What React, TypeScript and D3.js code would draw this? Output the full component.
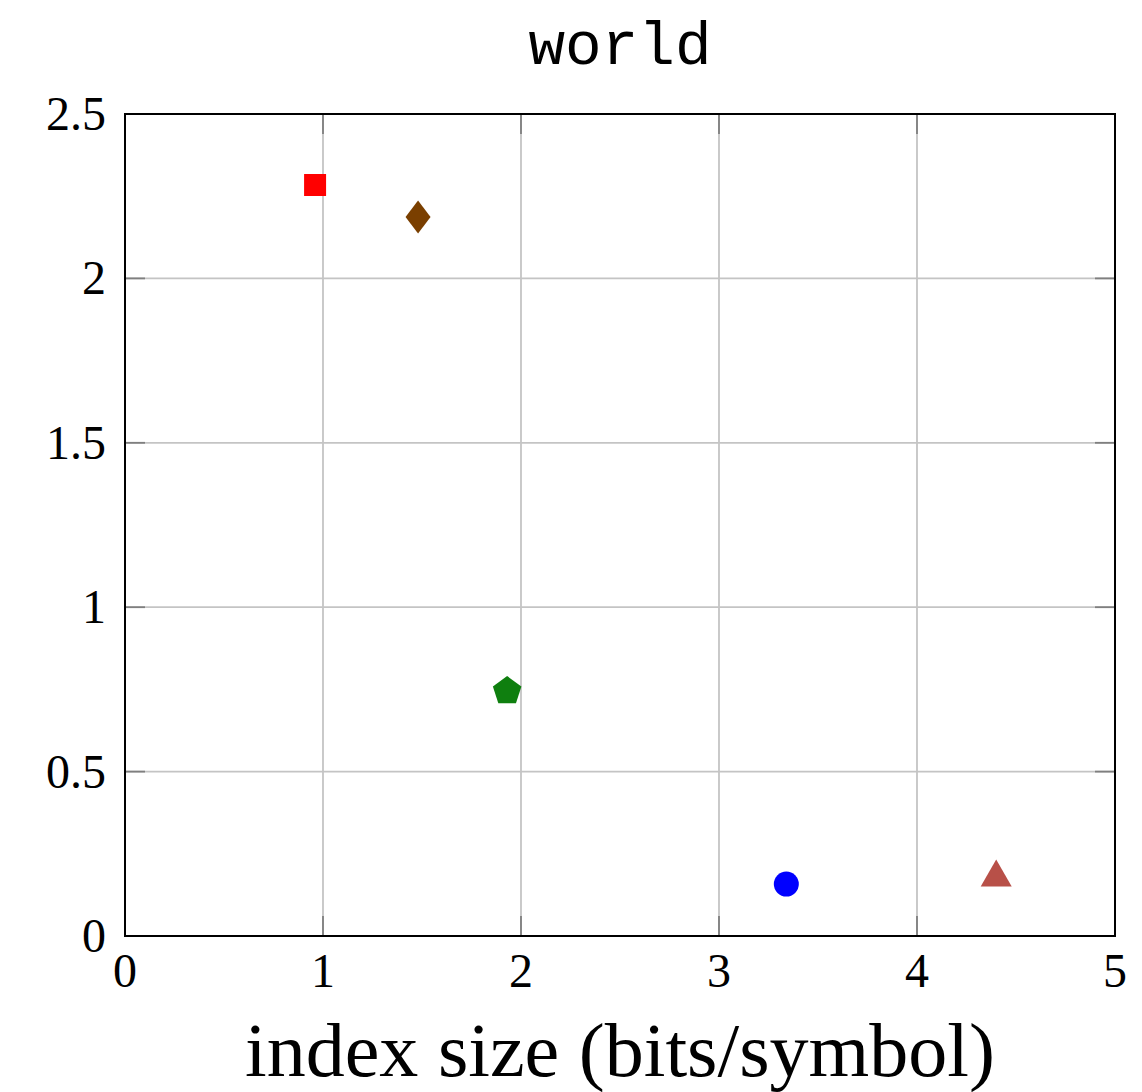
import React from "react";
import * as d3 from "d3";

// data
const seriesIds = ["s1", "s2", "s3", "s4", "s5"];
const indexSize = [0.96, 1.48, 1.93, 3.34, 4.4];
const yValues = [2.284, 2.187, 0.745, 0.158, 0.178];
const xTicks = [0, 1, 2, 3, 4, 5];
const yTicks = [0, 0.5, 1, 1.5, 2, 2.5];
const yTickLabels = ["0", "0.5", "1", "1.5", "2", "2.5"];

// marker style per series
const markerStyle = {
  s1: { shape: "square", color: "#ff0000" },
  s2: { shape: "diamond", color: "#7a3f00" },
  s3: { shape: "pentagon", color: "#0f7f0f" },
  s4: { shape: "circle", color: "#0000ff" },
  s5: { shape: "triangle", color: "#b85048" },
};

const width = 1142;
const height = 1092;
const margin = { top: 114, right: 27, bottom: 156, left: 125 };

const markerPath = (shape: string) => {
  if (shape === "square") {
    const h = 11;
    return `M${-h},${-h}H${h}V${h}H${-h}Z`;
  }
  if (shape === "diamond") {
    return `M0,-16.5L12.5,0L0,16.5L-12.5,0Z`;
  }
  if (shape === "pentagon" || shape === "triangle") {
    const n = shape === "pentagon" ? 5 : 3;
    const r = shape === "pentagon" ? 15 : 17.9;
    const pts = d3.range(n).map((i) => {
      const a = -Math.PI / 2 + (i * 2 * Math.PI) / n;
      return [r * Math.cos(a), r * Math.sin(a)];
    });
    return "M" + pts.map((p) => p.join(",")).join("L") + "Z";
  }
  return d3.symbol(d3.symbolCircle, Math.PI * 12.5 * 12.5)() || "";
};

export default function App() {
  const x = d3
    .scaleLinear()
    .domain([0, 5])
    .range([margin.left, width - margin.right]);
  const y = d3
    .scaleLinear()
    .domain([0, 2.5])
    .range([height - margin.bottom, margin.top]);

  const [x0, x1] = x.range();
  const [y0, y1] = y.range();
  const tickLen = 20;

  return (
    <svg
      width={width}
      height={height}
      style={{ position: "absolute", left: 0, top: 0, background: "#fff" }}
    >
      {/* grid */}
      <g stroke="#c4c4c4" strokeWidth={1.8}>
        {xTicks.slice(1, -1).map((t) => (
          <line key={"gx" + t} x1={x(t)} x2={x(t)} y1={y0} y2={y1} />
        ))}
        {yTicks.slice(1, -1).map((t) => (
          <line key={"gy" + t} x1={x0} x2={x1} y1={y(t)} y2={y(t)} />
        ))}
      </g>
      {/* inward ticks on all sides */}
      <g stroke="#7f7f7f" strokeWidth={1.8}>
        {xTicks.slice(1, -1).map((t) => (
          <g key={"tx" + t}>
            <line x1={x(t)} x2={x(t)} y1={y0} y2={y0 - tickLen} />
            <line x1={x(t)} x2={x(t)} y1={y1} y2={y1 + tickLen} />
          </g>
        ))}
        {yTicks.slice(1, -1).map((t) => (
          <g key={"ty" + t}>
            <line x1={x0} x2={x0 + tickLen} y1={y(t)} y2={y(t)} />
            <line x1={x1} x2={x1 - tickLen} y1={y(t)} y2={y(t)} />
          </g>
        ))}
      </g>
      {/* markers */}
      {seriesIds.map((id, i) => {
        const st = markerStyle[id];
        return (
          <path
            key={id}
            d={markerPath(st.shape)}
            transform={`translate(${x(indexSize[i])},${y(yValues[i])})`}
            fill={st.color}
          />
        );
      })}
      {/* frame */}
      <rect
        x={x0}
        y={y1}
        width={x1 - x0}
        height={y0 - y1}
        fill="none"
        stroke="#000"
        strokeWidth={2}
      />
      {/* tick labels */}
      <g fontFamily="'Liberation Serif', serif" fontSize={48} fill="#000">
        {xTicks.map((t) => (
          <text key={"lx" + t} x={x(t)} y={y0 + 51} textAnchor="middle">
            {t}
          </text>
        ))}
        {yTicks.map((t, i) => (
          <text key={"ly" + t} x={x0 - 19} y={y(t) + 16} textAnchor="end">
            {yTickLabels[i]}
          </text>
        ))}
      </g>
      {/* axis label */}
      <text
        x={(x0 + x1) / 2}
        y={1076}
        textAnchor="middle"
        fontFamily="'Liberation Serif', serif"
        fontSize={76}
        textLength={750}
        lengthAdjust="spacingAndGlyphs"
      >
        index size (bits/symbol)
      </text>
      {/* title */}
      <text
        x={(x0 + x1) / 2}
        y={64}
        textAnchor="middle"
        fontFamily="'Liberation Mono', monospace"
        fontSize={61}
      >
        world
      </text>
    </svg>
  );
}
